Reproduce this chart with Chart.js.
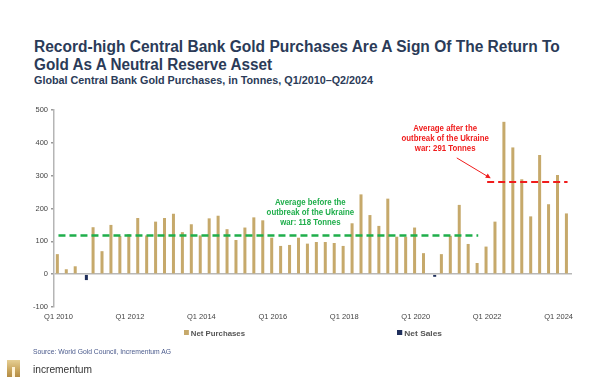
<!DOCTYPE html>
<html lang="en">
<head>
<meta charset="UTF-8">
<title>Central Bank Gold Purchases</title>
<script src="https://cdn.jsdelivr.net/npm/chart.js"></script>
<style>
  body { margin: 0; width: 600px; height: 383px; background: #fff; position: relative; overflow: hidden;
         font-family: Arial, "Liberation Sans", sans-serif; }
  .txt { position: absolute; white-space: nowrap; transform-origin: 0 50%; }
  .title { left: 34px; font-size: 16px; font-weight: bold; color: #2b3b58; line-height: 19px; }
  .sub { left: 34px; top: 74px; font-size: 10.5px; font-weight: bold; color: #2b3b58; line-height: 12px; }
  .leg { font-size: 8px; font-weight: bold; color: #555; line-height: 10px; top: 329px; }
  .leg i { display: inline-block; width: 5px; height: 5px; margin-right: 2px; vertical-align: 1px; }
  .src { left: 33px; top: 348px; font-size: 6.5px; color: #4a5a8c; line-height: 8px; }
  .brand { left: 33px; top: 363px; font-size: 10.5px; color: #333; line-height: 12px; }
  #logo { position: absolute; left: 7px; top: 360px; width: 13px; height: 17px;
          background: linear-gradient(180deg, #e6cf94 0%, #c9a55c 60%, #b38c45 100%); }
  #logo:after { content: ""; position: absolute; left: 5px; top: 7px; width: 3px; height: 10px; background: #fff3d6; }
  #chart { position: absolute; left: 0; top: 0; }
</style>
</head>
<body>
<div class="txt title" data-w="526" style="top:37px">Record-high Central Bank Gold Purchases Are A Sign Of The Return To</div>
<div class="txt title" data-w="238" style="top:55px">Gold As A Neutral Reserve Asset</div>
<div class="txt sub" data-w="339">Global Central Bank Gold Purchases, in Tonnes, Q1/2010–Q2/2024</div>
<canvas id="chart" width="600" height="383"></canvas>
<div class="txt leg" data-w="61" style="left:184px"><i style="background:#c6a96b"></i>Net Purchases</div>
<div class="txt leg" data-w="45" style="left:397px"><i style="background:#1f2f5c"></i>Net Sales</div>
<div class="txt src" data-w="138">Source: World Gold Council, Incrementum AG</div>
<div id="logo"></div>
<div class="txt brand" data-w="59">incrementum</div>
<script>
// quarters Q1 2010 .. Q2 2024
const quarters = [];
for (let y = 2010; y <= 2024; y++) {
    for (let q = 1; q <= 4; q++) {
        if (y === 2024 && q > 2) break;
        quarters.push('Q' + q + ' ' + y);
    }
}

// tonnes
const netPurchases = [
    61, 15, 24, null, 143, 70, 150, 116, 122, 171, 118, 160, 171, 184, 128, 152,
    118, 170, 178, 137, 104, 142, 173, 164, 111, 86, 89, 111, 93, 98, 98, 95,
    86, 155, 243, 180, 147, 230, 114, 114, 142, 64, null, 61, 117, 211, 92, 34,
    84, 160, 464, 386, 289, 176, 363, 213, 302, 185
];
const netSales = quarters.map(() => null);
netSales[3] = -18;   // Q4 2010
netSales[42] = -8;   // Q3 2020

const avgBefore = 118;   // Q1 2010 - Q4 2021
const avgAfter = 281;    // Q1 2022 - Q2 2024 (line as drawn)
const warStart = quarters.indexOf('Q1 2022');
const avgBeforeLine = quarters.map((q, i) => i < warStart ? avgBefore : null);
const avgAfterLine = quarters.map((q, i) => i >= warStart ? avgAfter : null);

const yTicks = [-100, 0, 100, 200, 300, 400, 500];

// text annotations, anchored on the data scales
const notes = [
    { lines: ['Average before the', 'outbreak of the Ukraine', 'war: 118 Tonnes'], x: 28.2, y: 219, color: '#1fae4b' },
    { lines: ['Average after the', 'outbreak of the Ukraine', 'war: 291 Tonnes'], x: 43.3, y: 443, color: '#f01c1c' }
];
const arrow = { from: [44.6, 354], to: [48.4, 292], color: '#f01c1c' };

const notesPlugin = {
    id: 'notes',
    afterDatasetsDraw(chart) {
        const ctx = chart.ctx;
        const xs = chart.scales.x, ys = chart.scales.y;
        ctx.save();
        ctx.font = 'bold 9px Arial, "Liberation Sans", sans-serif';
        ctx.textAlign = 'center';
        ctx.textBaseline = 'middle';
        notes.forEach(n => {
            const cx = xs.getPixelForValue(n.x);
            const cy = ys.getPixelForValue(n.y);
            ctx.fillStyle = n.color;
            n.lines.forEach((t, i) => {
                ctx.save();
                ctx.translate(cx, cy + i * 10);
                ctx.scale(0.87, 1);
                ctx.fillText(t, 0, 0);
                ctx.restore();
            });
        });
        const x1 = xs.getPixelForValue(arrow.from[0]), y1 = ys.getPixelForValue(arrow.from[1]);
        const x2 = xs.getPixelForValue(arrow.to[0]), y2 = ys.getPixelForValue(arrow.to[1]);
        const a = Math.atan2(y2 - y1, x2 - x1);
        ctx.strokeStyle = arrow.color;
        ctx.fillStyle = arrow.color;
        ctx.lineWidth = 1;
        ctx.beginPath();
        ctx.moveTo(x1, y1);
        ctx.lineTo(x2 - 3 * Math.cos(a), y2 - 3 * Math.sin(a));
        ctx.stroke();
        ctx.beginPath();
        ctx.moveTo(x2, y2);
        ctx.lineTo(x2 - 5 * Math.cos(a) + 2.5 * Math.sin(a), y2 - 5 * Math.sin(a) - 2.5 * Math.cos(a));
        ctx.lineTo(x2 - 5 * Math.cos(a) - 2.5 * Math.sin(a), y2 - 5 * Math.sin(a) + 2.5 * Math.cos(a));
        ctx.closePath();
        ctx.fill();
        ctx.restore();
    }
};

const tickFont = { family: 'Arial, "Liberation Sans", sans-serif', size: 7.5 };

new Chart(document.getElementById('chart'), {
    data: {
        labels: quarters,
        datasets: [
            { type: 'bar', label: 'Net Purchases', data: netPurchases, backgroundColor: '#c6a96b',
              categoryPercentage: 0.5, barPercentage: 1.35, order: 2 },
            { type: 'bar', label: 'Net Sales', data: netSales, backgroundColor: '#1f2f5c',
              categoryPercentage: 0.5, barPercentage: 1.35, order: 2 },
            { type: 'line', label: 'Average before', data: avgBeforeLine, borderColor: '#1fae4b',
              borderWidth: 2.5, borderDash: [7, 4], pointRadius: 0, fill: false, order: 1 },
            { type: 'line', label: 'Average after', data: avgAfterLine, borderColor: '#f01c1c',
              borderWidth: 2, borderDash: [7, 4], pointRadius: 0, fill: false, order: 1 }
        ]
    },
    options: {
        responsive: false,
        animation: false,
        layout: { padding: { left: 24, top: 110, right: 28, bottom: 56 } },
        plugins: { legend: { display: false }, tooltip: { enabled: false } },
        scales: {
            x: {
                type: 'category',
                offset: true,
                grid: { display: false, drawTicks: false },
                border: { display: false },
                ticks: {
                    autoSkip: false, maxRotation: 0, padding: 5, color: '#444', font: tickFont,
                    callback: (v, i) => i % 8 === 0 ? quarters[i] : ''
                },
                afterFit: s => { s.height = 20; }
            },
            y: {
                min: -100, max: 500,
                afterBuildTicks: s => { s.ticks = yTicks.map(v => ({ value: v })); },
                grid: {
                    color: c => c.tick && c.tick.value === 0 ? '#b8b8b8' : 'transparent',
                    lineWidth: 1.5, tickLength: 3, tickColor: '#999'
                },
                border: { display: true, color: '#b5b5b5', width: 1.5 },
                ticks: { padding: 3, color: '#444', font: tickFont },
                afterFit: s => { s.width = 30; }
            }
        }
    },
    plugins: [notesPlugin]
});

// squeeze text to the widths seen in the picture
document.querySelectorAll('.txt').forEach(el => {
    const w = el.getBoundingClientRect().width;
    el.style.transform = 'scaleX(' + (el.dataset.w / w).toFixed(3) + ')';
});
</script>
</body>
</html>
